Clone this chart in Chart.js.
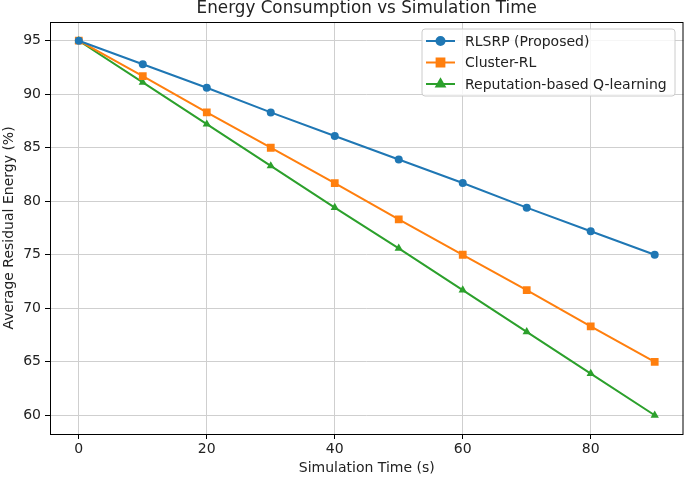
<!DOCTYPE html>
<html>
<head>
<meta charset="utf-8">
<script src="https://cdn.jsdelivr.net/npm/chart.js@4"></script>
<style>
  html, body { margin: 0; padding: 0; background: #fff; overflow: hidden; }
  #wrap { width: 689px; height: 479px; }
</style>
</head>
<body>
<div id="wrap"><canvas id="energyChart"></canvas></div>
<script>
const simTime = [0, 10, 20, 30, 40, 50, 60, 70, 80, 90];
const rlsrp = [95, 92.8, 90.6, 88.3, 86.1, 83.9, 81.7, 79.4, 77.2, 75];
const clusterRL = [95, 91.7, 88.3, 85, 81.7, 78.3, 75, 71.7, 68.3, 65];
const repQL = [95, 91.1, 87.2, 83.3, 79.4, 75.6, 71.7, 67.8, 63.9, 60];
const xTicks = [0, 20, 40, 60, 80];
const yTicks = [60, 65, 70, 75, 80, 85, 90, 95];

const FONT = "'DejaVu Sans', sans-serif";

function pts(ys) {
  return simTime.map((x, i) => ({ x: x, y: ys[i] }));
}

// title, frame (all four spines) and a matplotlib-like legend
const decorations = {
  id: 'decorations',
  afterDraw(chart) {
    const c = chart.ctx;
    const a = chart.chartArea;
    c.save();
    c.strokeStyle = '#000';
    c.lineWidth = 1;
    c.strokeRect(a.left + 0.5, a.top + 0.5, a.right - a.left - 1, a.bottom - a.top);
    c.fillStyle = '#222';
    c.font = '16.8px ' + FONT;
    c.textAlign = 'center';
    c.textBaseline = 'middle';
    c.fillText('Energy Consumption vs Simulation Time', (a.left + a.right) / 2, 9);

    const bx = 422, by = 29, bw = 253, bh = 67;
    c.fillStyle = 'rgba(255,255,255,0.8)';
    c.strokeStyle = '#cccccc';
    c.lineWidth = 1;
    c.beginPath();
    c.roundRect(bx, by, bw, bh, 3);
    c.fill();
    c.stroke();
    c.font = '14px ' + FONT;
    c.textAlign = 'left';
    chart.data.datasets.forEach((ds, i) => {
      const y = by + 12 + i * 21.5;
      c.strokeStyle = ds.borderColor;
      c.lineWidth = 2;
      c.beginPath();
      c.moveTo(426, y);
      c.lineTo(455, y);
      c.stroke();
      Chart.helpers.drawPoint(c, {
        pointStyle: ds.pointStyle, radius: ds.pointRadius, rotation: 0, borderWidth: 1
      }, 440.5, y);
      c.fillStyle = ds.borderColor;
      c.fill();
      c.fillStyle = '#222';
      c.fillText(ds.label, 465, y + 1);
    });
    c.restore();
  }
};

new Chart(document.getElementById('energyChart'), {
  type: 'line',
  data: {
    datasets: [
      {
        label: 'RLSRP (Proposed)', data: pts(rlsrp),
        borderColor: '#1f77b4', backgroundColor: '#1f77b4',
        pointStyle: 'circle', pointRadius: 4
      },
      {
        label: 'Cluster-RL', data: pts(clusterRL),
        borderColor: '#ff7f0e', backgroundColor: '#ff7f0e',
        pointStyle: 'rect', pointRadius: 5.5
      },
      {
        label: 'Reputation-based Q-learning', data: pts(repQL),
        borderColor: '#2ca02c', backgroundColor: '#2ca02c',
        pointStyle: 'triangle', pointRadius: 4.8
      }
    ]
  },
  options: {
    responsive: true,
    maintainAspectRatio: false,
    animation: false,
    layout: { padding: { top: 22, right: 1, left: 0, bottom: 0 } },
    elements: {
      line: { borderWidth: 2, tension: 0 },
      point: { borderWidth: 0, hoverRadius: 5 }
    },
    plugins: {
      legend: { display: false },
      title: { display: false },
      tooltip: { enabled: false }
    },
    scales: {
      x: {
        type: 'linear',
        min: -4.5,
        max: 94.5,
        afterBuildTicks: s => { s.ticks = xTicks.map(v => ({ value: v })); },
        afterFit: s => { s.height = 45; },
        grid: { color: '#cfcfcf', lineWidth: 1, tickLength: 5, tickColor: '#000' },
        border: { display: false },
        ticks: { color: '#222', font: { family: FONT, size: 14 }, padding: 2, maxRotation: 0 },
        title: {
          display: true, text: 'Simulation Time (s)', color: '#222',
          font: { family: FONT, size: 14 }, padding: { top: 0, bottom: 2 }
        }
      },
      y: {
        min: 58.25,
        max: 96.75,
        afterBuildTicks: s => { s.ticks = yTicks.map(v => ({ value: v })); },
        afterFit: s => { s.width = 50; },
        grid: { color: '#cfcfcf', lineWidth: 1, tickLength: 5, tickColor: '#000' },
        border: { display: false },
        ticks: { color: '#222', font: { family: FONT, size: 14 }, padding: 4 },
        title: {
          display: true, text: 'Average Residual Energy (%)', color: '#222',
          font: { family: FONT, size: 14 }, padding: { top: 1, bottom: 0 }
        }
      }
    }
  },
  plugins: [decorations]
});
</script>
</body>
</html>
